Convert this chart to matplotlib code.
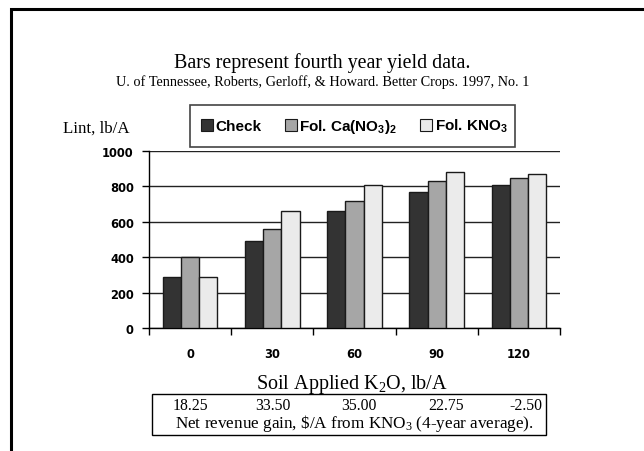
import matplotlib
matplotlib.use("Agg")
import matplotlib.pyplot as plt
from matplotlib.patches import Patch, Rectangle
from matplotlib.lines import Line2D
import matplotlib.transforms as mtransforms
import numpy as np

categories = ["0", "30", "60", "90", "120"]
series_names = ["Check", r"Fol. Ca(NO$_\mathbf{3}$)$_\mathbf{2}$", r"Fol. KNO$_\mathbf{3}$"]
check = [290, 490, 660, 770, 810]
fol_ca = [400, 560, 720, 830, 850]
fol_kno3 = [290, 660, 810, 880, 870]
revenue = ["18.25", "33.50", "35.00", "22.75", "-2.50"]
yticks = [0, 200, 400, 600, 800, 1000]

colors = ["#333333", "#A6A6A6", "#EBEBEB"]

plt.rcParams["mathtext.fontset"] = "custom"
plt.rcParams["mathtext.rm"] = "Liberation Serif"
plt.rcParams["mathtext.bf"] = "Liberation Sans:bold"
plt.rcParams["mathtext.default"] = "rm"

W, H = 644, 452
fig = plt.figure(figsize=(W / 100, H / 100), dpi=100)
fig.patch.set_facecolor("white")

def fx(px):
    return px / W

def fy(py):
    return 1 - py / H

ax = fig.add_axes([fx(149), fy(329), fx(560) - fx(149), fy(152) - fy(329)])

x = np.arange(len(categories))
bw = 0.222
data = [check, fol_ca, fol_kno3]
for i, (vals, c) in enumerate(zip(data, colors)):
    ax.bar(x + (i - 1) * bw, vals, width=bw, color=c, edgecolor="#1a1a1a",
           linewidth=1.0, zorder=3)

ax.set_xlim(-0.5, len(categories) - 0.5)
ax.set_ylim(0, 1000)
ax.set_yticks(yticks)
ax.set_yticklabels([str(v) for v in yticks])
ax.yaxis.grid(True, color="#222222", linewidth=1.0, zorder=0)
ax.set_axisbelow(True)

ax.set_xticks(x)
ax.set_xticklabels(categories)
ax.set_xticks(np.arange(len(categories) + 1) - 0.5, minor=True)
ax.tick_params(axis="x", which="major", length=0, pad=14)
ax.tick_params(axis="x", which="minor", length=5, width=1, direction="out", color="black")
ax.tick_params(axis="y", length=5, width=1, direction="out", pad=6)
for lab in ax.get_xticklabels() + ax.get_yticklabels():
    lab.set_fontfamily("DejaVu Sans")
    lab.set_fontweight("bold")
    lab.set_fontsize(8.3)

for s in ["top", "right"]:
    ax.spines[s].set_visible(False)
for s in ["left", "bottom"]:
    ax.spines[s].set_color("black")
    ax.spines[s].set_linewidth(1.0)

# Legend
handles = [Patch(facecolor=c, edgecolor="#1a1a1a", linewidth=0.8) for c in colors]
leg = fig.legend(handles, series_names, loc="center left",
                 bbox_to_anchor=(fx(192), fy(148), fx(515) - fx(192), fy(106) - fy(148)),
                 ncol=3, frameon=False, handlelength=0.8, handleheight=0.8,
                 handletextpad=0.15, columnspacing=1.5, borderaxespad=0, borderpad=0.6,
                 prop={"family": "Liberation Sans", "weight": "bold", "size": 11})
fig.add_artist(Rectangle((fx(190), fy(148)), fx(515) - fx(190), fy(106) - fy(148),
                         transform=fig.transFigure, facecolor="none", edgecolor="#444444",
                         linewidth=1.2))

# Titles
fig.text(fx(322), fy(63), "Bars represent fourth year yield data.", ha="center", va="center",
         family="Liberation Serif", fontsize=14.4)
fig.text(fx(323), fy(82), "U. of Tennessee, Roberts, Gerloff, & Howard. Better Crops. 1997, No. 1",
         ha="center", va="center", family="Liberation Serif", fontsize=10.3)
fig.text(fx(63), fy(129), "Lint, lb/A", ha="left", va="center",
         family="Liberation Serif", fontsize=12.2)
fig.text(fx(352), fy(385), r"Soil Applied K$_2$O, lb/A", ha="center", va="center",
         family="Liberation Serif", fontsize=14.5)

# Revenue box
fig.add_artist(Rectangle((fx(152), fy(436)), fx(546) - fx(152), fy(395) - fy(436),
                         transform=fig.transFigure, facecolor="white", edgecolor="black",
                         linewidth=1.0))
rev_offsets = [0.0, 0.01, 0.05, 0.11, 0.08]
trans = mtransforms.blended_transform_factory(ax.transData, fig.transFigure)
for i, r in enumerate(revenue):
    fig.text(x[i] + rev_offsets[i], fy(410), r, ha="center", va="baseline", transform=trans,
             family="Liberation Serif", fontsize=11.3)
fig.text(fx(354), fy(428), r"Net revenue gain, \$/A from KNO$_3$ (4-year average).",
         ha="center", va="baseline", family="Liberation Serif", fontsize=12.3)

# Frame
fig.add_artist(Line2D([fx(11), fx(11), 1.0], [0.0, fy(10), fy(10)], transform=fig.transFigure,
                      color="black", linewidth=2.2, solid_joinstyle="miter"))

fig.savefig("out.png", dpi=100)
